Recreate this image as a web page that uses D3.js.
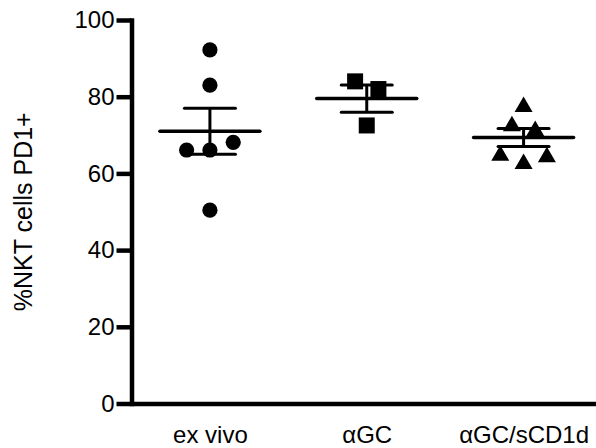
<!DOCTYPE html>
<html>
<head>
<meta charset="utf-8">
<script src="https://cdn.jsdelivr.net/npm/d3@7"></script>
<style>
  body { margin: 0; background: #fff; }
  svg { display: block; }
  text { font-family: Arial, "Liberation Sans", sans-serif; fill: #000; }
</style>
</head>
<body>
<div id="chart"></div>
<script>
// Groups (x categories), in the order shown
const groups = ['ex vivo', 'αGC', 'αGC/sCD1d'];

// Individual values per group (% NKT cells PD1+), in data-entry order
const exVivo = [92.2, 83.0, 66.1, 66.1, 68.1, 50.4];
const aGC = [84.0, 82.0, 72.5];
const aGCsCD1d = [78.0, 73.0, 71.8, 65.3, 63.2, 64.9];

const yTicks = [0, 20, 40, 60, 80, 100];
const yLabel = '%NKT cells PD1+';

const series = [
    { name: groups[0], values: exVivo, shape: 'circle' },
    { name: groups[1], values: aGC, shape: 'square' },
    { name: groups[2], values: aGCsCD1d, shape: 'triangle' }
];

const width = 596, height = 448;
const axisX = 131.5;

const svg = d3.select('#chart').append('svg')
    .attr('width', width)
    .attr('height', height);

const y = d3.scaleLinear().domain([0, 100]).range([403.5, 20]);
const x = d3.scalePoint().domain(groups).range([axisX, 602]).padding(0.5);

// Y axis
const yAxis = svg.append('g')
    .attr('transform', `translate(${axisX},0)`)
    .call(d3.axisLeft(y).tickValues(yTicks).tickSize(15).tickSizeOuter(0).tickPadding(2));
yAxis.select('.domain').attr('stroke-width', 4.5).attr('stroke-linecap', 'square');
yAxis.selectAll('.tick line').attr('stroke-width', 4.5);
yAxis.selectAll('.tick text').attr('font-size', 24).attr('font-family', null);

// X axis (no ticks)
const xAxis = svg.append('g')
    .attr('transform', `translate(0,${y(0)})`)
    .call(d3.axisBottom(x).tickSize(0).tickSizeOuter(0).tickPadding(22));
xAxis.select('.domain').attr('stroke-width', 4.5);
xAxis.selectAll('.tick text').attr('font-size', 24).attr('font-family', null);

// Y label
svg.append('text')
    .attr('transform', `translate(32,${(y(0) + y(100)) / 2}) rotate(-90)`)
    .attr('text-anchor', 'middle')
    .attr('font-size', 25)
    .text(yLabel);

// Spread points that would overlap into centred rows
const markerSize = 15;
const step = 23.3;
function layout(values) {
    const pts = values.map((v, i) => ({ v, i, py: y(v) }));
    const sorted = pts.slice().sort((a, b) => a.v - b.v);
    const rows = [];
    sorted.forEach(p => {
        const row = rows[rows.length - 1];
        if (row && Math.abs(row[row.length - 1].py - p.py) < markerSize) row.push(p);
        else rows.push([p]);
    });
    rows.forEach(row => {
        row.sort((a, b) => a.i - b.i);
        row.forEach((p, k) => { p.dx = (k - (row.length - 1) / 2) * step; });
    });
    return pts;
}

function markerPath(shape) {
    if (shape === 'triangle') {
        const s = 18, h = 15.5;
        return `M0,${-h / 2}L${s / 2},${h / 2}L${-s / 2},${h / 2}Z`;
    }
    if (shape === 'square') return d3.symbol(d3.symbolSquare, 256)();
    return d3.symbol(d3.symbolCircle, Math.PI * 7.6 * 7.6)();
}

series.forEach(s => {
    const cx = x(s.name);
    const g = svg.append('g').attr('class', 'group');

    // Points
    g.selectAll('path.pt')
        .data(layout(s.values))
        .join('path')
        .attr('class', 'pt')
        .attr('d', markerPath(s.shape))
        .attr('transform', d => `translate(${cx + d.dx},${d.py})`)
        .attr('fill', '#000');

    // Mean and SEM
    const mean = d3.mean(s.values);
    const sem = d3.deviation(s.values) / Math.sqrt(s.values.length);

    g.append('line')
        .attr('x1', cx).attr('x2', cx)
        .attr('y1', y(mean + sem)).attr('y2', y(mean - sem))
        .attr('stroke', '#000').attr('stroke-width', 3);

    [mean + sem, mean - sem].forEach(v => {
        g.append('line')
            .attr('x1', cx - 25.5).attr('x2', cx + 25.5)
            .attr('y1', y(v)).attr('y2', y(v))
            .attr('stroke', '#000').attr('stroke-width', 3)
            .attr('stroke-linecap', 'round');
    });

    g.append('line')
        .attr('x1', cx - 50).attr('x2', cx + 50)
        .attr('y1', y(mean)).attr('y2', y(mean))
        .attr('stroke', '#000').attr('stroke-width', 3.5)
        .attr('stroke-linecap', 'round');
});
</script>
</body>
</html>
